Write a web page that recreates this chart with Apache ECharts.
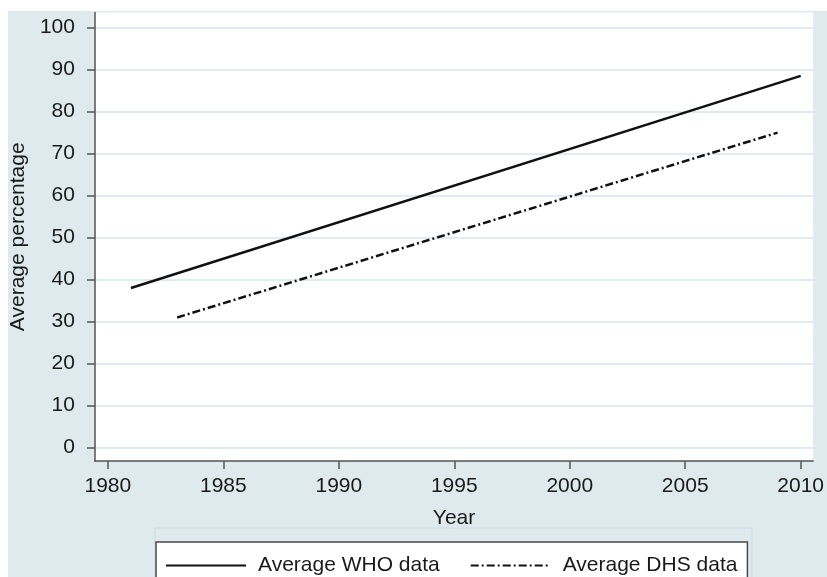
<!DOCTYPE html>
<html>
<head>
<meta charset="utf-8">
<script src="https://cdn.jsdelivr.net/npm/echarts@6/dist/echarts.min.js"></script>
<style>
  html, body { margin: 0; padding: 0; background: #fff; }
  #main { width: 827px; height: 577px; }
</style>
</head>
<body>
<div id="main"></div>
<script>
// data
var seriesNames = ['Average WHO data', 'Average DHS data'];
var whoYears = [1981, 2010];
var whoValues = [38, 88.5];
var dhsYears = [1983, 2009];
var dhsValues = [31, 75];
var xTicks = [1980, 1985, 1990, 1995, 2000, 2005, 2010];
var yTicks = [0, 10, 20, 30, 40, 50, 60, 70, 80, 90, 100];

function pairs(xs, ys) {
  var out = [];
  for (var i = 0; i < xs.length; i++) out.push([xs[i], ys[i]]);
  return out;
}

var chart = echarts.init(document.getElementById('main'), null, { renderer: 'canvas' });

var font = 'Liberation Sans, Arial, sans-serif';
var axisColor = '#555555';
var textColor = '#1a1a1a';
var panelColor = '#deeaee';

var option = {
  backgroundColor: '#ffffff',
  animation: false,
  graphic: [
    {
      type: 'rect', z: -10, silent: true,
      shape: { x: 8, y: 11, width: 830, height: 580 },
      style: { fill: panelColor }
    },
    {
      // faint outer legend frame
      type: 'rect', z: -5, silent: true,
      shape: { x: 155, y: 528, width: 597, height: 60 },
      style: { fill: 'none', stroke: '#cddde3', lineWidth: 1 }
    }
  ],
  grid: {
    left: 92, right: 9.5, top: 12.5, bottom: 116,
    show: true, backgroundColor: '#ffffff', borderWidth: 0
  },
  legend: {
    left: 156, top: 542,
    padding: [13, 10, 13, 9],
    itemGap: 30,
    itemWidth: 80, itemHeight: 14,
    backgroundColor: '#ffffff',
    borderColor: '#4a4a4a', borderWidth: 1.5,
    borderRadius: 0,
    itemStyle: { opacity: 0 },
    textStyle: { fontFamily: font, fontSize: 21, color: textColor, padding: [0, 0, 0, 7] },
    data: seriesNames
  },
  xAxis: {
    type: 'value',
    min: 1979.44, max: 2010.54,
    name: 'Year',
    nameLocation: 'middle',
    nameGap: 47,
    nameTextStyle: { fontFamily: font, fontSize: 21, color: textColor },
    axisLine: { show: true, onZero: false, lineStyle: { color: axisColor, width: 1.5 } },
    axisTick: { show: true, length: 8, customValues: xTicks, lineStyle: { color: axisColor, width: 1.5 } },
    axisLabel: {
      customValues: xTicks, margin: 15,
      formatter: function (v) { return String(v); },
      fontFamily: font, fontSize: 21, color: textColor
    },
    splitLine: { show: false }
  },
  yAxis: {
    type: 'value',
    min: -3.17, max: 103.6,
    name: 'Average percentage',
    nameLocation: 'middle',
    nameGap: 62,
    nameTextStyle: { fontFamily: font, fontSize: 21, color: textColor },
    axisLine: { show: true, onZero: false, lineStyle: { color: axisColor, width: 1.5 } },
    axisTick: { show: true, length: 8, customValues: yTicks, lineStyle: { color: axisColor, width: 1.5 } },
    axisLabel: {
      customValues: yTicks, margin: 20,
      fontFamily: font, fontSize: 21, color: textColor
    },
    splitLine: { show: true, lineStyle: { color: '#d6e6ec', width: 1.5 } }
  },
  series: [
    {
      name: seriesNames[0],
      type: 'line',
      data: pairs(whoYears, whoValues),
      symbol: 'none',
      lineStyle: { color: '#111', width: 2.5 },
      itemStyle: { color: '#111' }
    },
    {
      name: seriesNames[1],
      type: 'line',
      data: pairs(dhsYears, dhsValues),
      symbol: 'none',
      lineStyle: { color: '#111', width: 2.5, type: [8, 3, 2, 3] },
      itemStyle: { color: '#111' }
    }
  ]
};

chart.setOption(option);
</script>
</body>
</html>
